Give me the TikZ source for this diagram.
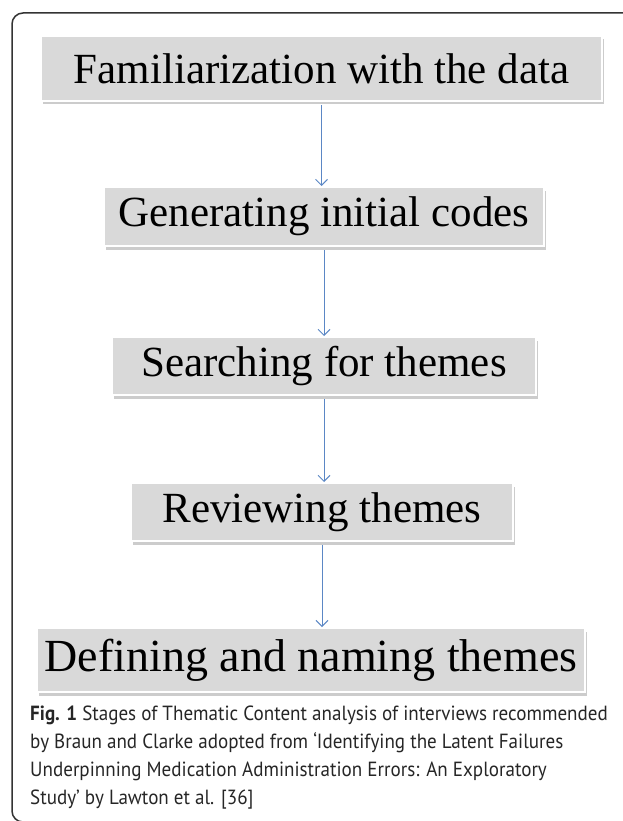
\documentclass[tikz,border=0pt]{standalone}
\usepackage{fontspec}
\setmainfont{Liberation Serif}
\newfontfamily\capfont[FakeStretch=0.93]{PT Sans}
\usetikzlibrary{shadows,arrows.meta}
\definecolor{boxgray}{HTML}{D9D9D9}
\definecolor{arrowblue}{HTML}{5B87C5}

\begin{document}
\begin{tikzpicture}[x=1pt,y=-1pt,
  stagebox/.style={draw=white,line width=2pt,fill=boxgray,inner sep=0pt,
    font=\fontsize{43}{50}\selectfont,
    drop shadow={shadow xshift=1.5pt,shadow yshift=-3.5pt,fill=black!40,opacity=0.5}},
  flow/.style={-{Straight Barb[length=6pt,width=12pt]},draw=arrowblue,line width=1pt}]
            \useasboundingbox (0,0) rectangle (622,821);
            \draw[black!80,line width=1.5pt,rounded corners=11pt] (12,13) rectangle (660,822);
            \node[stagebox,minimum width=561,minimum height=65] (fam) at (321.5,68.5) {Familiarization with the data};
            \node[stagebox,minimum width=440,minimum height=59] (gen) at (324,216.5) {Generating initial codes};
            \node[stagebox,minimum width=424,minimum height=58] (sea) at (324,366) {Searching for themes};
            \node[stagebox,minimum width=382,minimum height=58] (rev) at (322,512) {Reviewing themes};
            \node[stagebox,minimum width=548,minimum height=64,font=\fontsize{46}{52}\selectfont] (def) at (311,660) {Defining and naming themes};
            \draw[flow,shorten <=3pt] (fam.south) -- (fam.south |- gen.north);
            \draw[flow,shorten <=3pt] (gen.south) -- (gen.south |- sea.north);
            \draw[flow,shorten <=3pt] (sea.south) -- (sea.south |- rev.north);
            \draw[flow,shorten <=3pt] (rev.south) -- (rev.south |- def.north);
            \node[anchor=north west,inner sep=0pt,align=left,text=black!85,
              font=\capfont\fontsize{20.5}{27.8}\selectfont] (cap) at (30,706)
              {\textbf{Fig. 1} Stages of Thematic Content analysis of interviews recommended\\
               by Braun and Clarke adopted from ‘Identifying the Latent Failures\\
               Underpinning Medication Administration Errors: An Exploratory\\
               Study’ by Lawton et al. [36]};
        \end{tikzpicture}
\end{document}
